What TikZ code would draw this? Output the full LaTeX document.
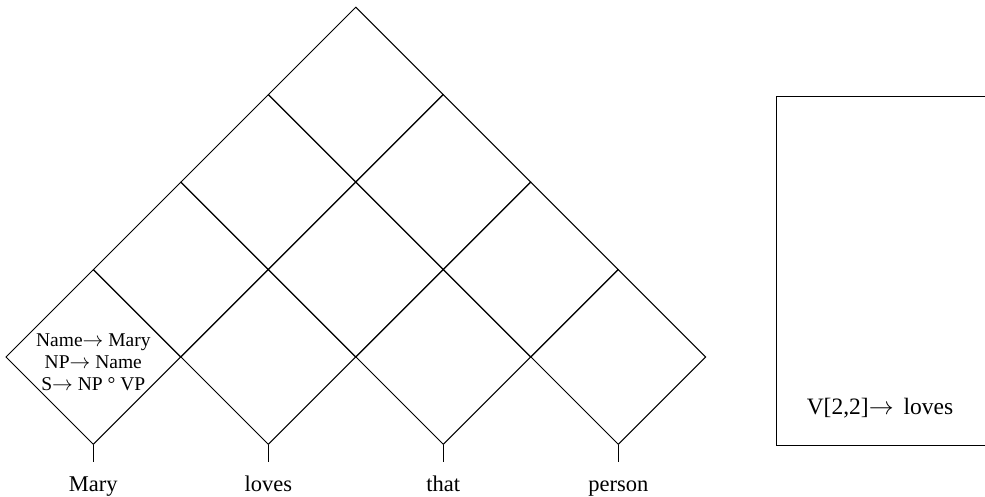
\documentclass[tikz,border=0pt]{standalone}
\usepackage{fontspec}
\setmainfont{Liberation Serif}
\usetikzlibrary{shapes.geometric}
\begin{document}
\begin{tikzpicture}[x=1pt,y=-1pt,
  cell/.style={draw, shape=diamond, minimum width=175pt, minimum height=175pt, inner sep=0pt, line width=0.9pt},
  stem/.style={line width=0.9pt},
  word/.style={font=\fontsize{22.5}{27}\selectfont, anchor=base, inner sep=0pt},
  rule/.style={font=\fontsize{19.5}{22}\selectfont, align=center, inner sep=0pt},
  panel/.style={draw, line width=0.9pt, anchor=north west, minimum width=260pt, minimum height=349.3pt, inner sep=0pt},
  label/.style={font=\fontsize{23.5}{28}\selectfont, anchor=base, inner sep=0pt}]
\useasboundingbox (0,0) rectangle (985,496);
\clip (0,0) rectangle (985,496);
\foreach \i in {0,...,3} {
  \foreach \j in {\i,...,3} {
    \node[cell] (c\i\j) at ({93.3+87.5*(\i+\j)}, {357-87.5*(\j-\i)}) {};
  }
}
\foreach \i/\w in {0/Mary,1/loves,2/that,3/person} {
  \coordinate (s\i) at ({93.3+175*\i},462);
  \draw[stem] (c\i\i.south) -- (s\i);
  \node[word] (w\i) at ({93.3+175*\i},491) {\w};
}
\node[rule] (r00) at (93.3,362) {Name$\rightarrow$\ Mary\\NP$\rightarrow$\ Name\\S$\rightarrow$\ NP ° VP};
\node[panel] (panel) at (775.7,95.7) {};
\node[label] (v22) at (880,414) {V[2,2]$\rightarrow$\hspace{10pt}loves};
\end{tikzpicture}
\end{document}
